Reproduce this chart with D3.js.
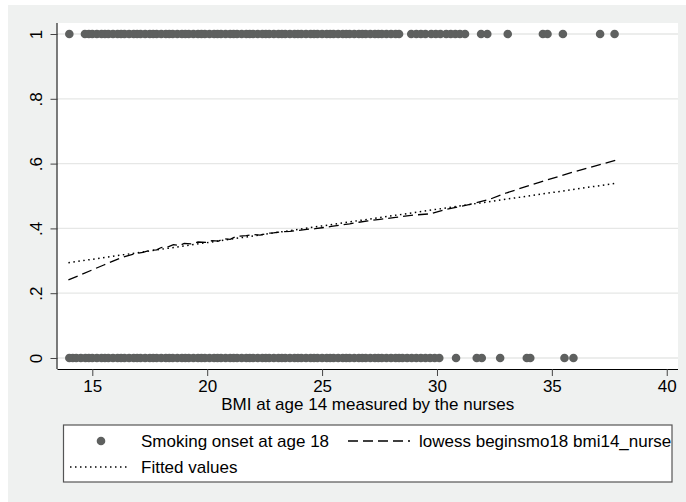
<!DOCTYPE html>
<html>
<head>
<meta charset="utf-8">
<script src="https://cdn.jsdelivr.net/npm/d3@7"></script>
<style>
  body { margin: 0; background: #fff; }
  svg { display: block; font-family: "Liberation Sans", Arial, sans-serif; }
</style>
</head>
<body>
<svg id="chart" width="686" height="502"></svg>
<script>
// BMI values of the observations, by smoking onset (1 = yes, 0 = no)
const smokerBMI = [14.0, 14.68, 14.85, 15.0, 15.2, 15.4, 15.55, 15.7, 15.9, 16.1, 16.25, 16.4, 16.6, 16.8, 16.95, 17.1, 17.3, 17.5, 17.65, 17.8, 18.0, 18.2, 18.35, 18.5, 18.7, 18.9, 19.05, 19.2, 19.4, 19.6, 19.75, 19.9, 20.1, 20.3, 20.45, 20.6, 20.8, 21.0, 21.15, 21.3, 21.5, 21.7, 21.85, 22.0, 22.2, 22.4, 22.55, 22.7, 22.9, 23.1, 23.25, 23.4, 23.6, 23.8, 23.95, 24.1, 24.3, 24.5, 24.65, 24.8, 25.0, 25.2, 25.35, 25.5, 25.7, 25.9, 26.05, 26.2, 26.4, 26.6, 26.75, 26.9, 27.1, 27.3, 27.45, 27.6, 27.8, 28.0, 28.2, 28.35, 28.88, 29.1, 29.3, 29.5, 29.75, 29.95, 30.15, 30.4, 30.6, 30.8, 31.0, 31.22, 31.92, 32.19, 33.08, 34.61, 34.81, 35.48, 37.1, 37.73];
const nonSmokerBMI = [14.0, 14.15, 14.3, 14.5, 14.7, 14.85, 15.0, 15.2, 15.4, 15.55, 15.7, 15.9, 16.1, 16.25, 16.4, 16.6, 16.8, 16.95, 17.1, 17.3, 17.5, 17.65, 17.8, 18.0, 18.2, 18.35, 18.5, 18.7, 18.9, 19.05, 19.2, 19.4, 19.6, 19.75, 19.9, 20.1, 20.3, 20.45, 20.6, 20.8, 21.0, 21.15, 21.3, 21.5, 21.7, 21.85, 22.0, 22.2, 22.4, 22.55, 22.7, 22.9, 23.1, 23.25, 23.4, 23.6, 23.8, 23.95, 24.1, 24.3, 24.5, 24.65, 24.8, 25.0, 25.2, 25.35, 25.5, 25.7, 25.9, 26.05, 26.2, 26.4, 26.6, 26.75, 26.9, 27.1, 27.3, 27.45, 27.6, 27.8, 28.0, 28.2, 28.35, 28.5, 28.7, 28.9, 29.1, 29.3, 29.5, 29.7, 29.9, 30.1, 30.83, 31.73, 31.95, 32.75, 33.91, 34.06, 35.55, 35.94];

// lowess smoother
const lowessBMI = [13.96, 14.5, 15.0, 15.5, 16.2, 16.8, 17.2, 17.5, 17.8, 18.0, 18.3, 18.53, 18.8, 19.0, 19.3, 19.6, 19.98, 20.2, 20.5, 20.7, 21.0, 21.2, 21.43, 21.7, 22.0, 22.3, 22.6, 22.88, 23.2, 23.6, 24.0, 24.33, 24.7, 25.0, 25.4, 25.78, 26.2, 26.6, 27.0, 27.52, 28.2, 28.97, 29.7, 30.43, 31.44, 32.3, 33.04, 34.49, 35.94, 37.76];
const lowessP = [0.241, 0.257, 0.272, 0.287, 0.308, 0.321, 0.326, 0.332, 0.334, 0.341, 0.343, 0.350, 0.347, 0.354, 0.352, 0.358, 0.357, 0.362, 0.361, 0.368, 0.366, 0.373, 0.376, 0.378, 0.381, 0.379, 0.385, 0.386, 0.389, 0.391, 0.394, 0.397, 0.399, 0.402, 0.406, 0.410, 0.414, 0.419, 0.423, 0.428, 0.434, 0.441, 0.445, 0.459, 0.474, 0.490, 0.510, 0.543, 0.574, 0.610];

// linear fit
const fittedBMI = [13.96, 37.76];
const fittedP = [0.294, 0.539];

const xTicks = [15, 20, 25, 30, 35, 40];
const yTicks = [0, 0.2, 0.4, 0.6, 0.8, 1];
const yTickLabels = ["0", ".2", ".4", ".6", ".8", "1"];
const xTitle = "BMI at age 14 measured by the nurses";
const legendLabels = ["Smoking onset at age 18", "lowess beginsmo18 bmi14_nurse", "Fitted values"];

const plot = { left: 57.5, right: 678, top: 23, bottom: 369 };
const dotColor = "#5e605f";
const fontSize = "17px";

const svg = d3.select("#chart");

svg.append("rect")
  .attr("x", 8).attr("y", 5)
  .attr("width", 686).attr("height", 502)
  .attr("fill", "#eff1f0");

svg.append("rect")
  .attr("x", plot.left).attr("y", plot.top)
  .attr("width", plot.right - plot.left)
  .attr("height", plot.bottom - plot.top)
  .attr("fill", "#fff");

const xScale = d3.scaleLinear().domain([13.485, 40.49]).range([plot.left, plot.right]);
const yScale = d3.scaleLinear().domain([-0.034, 1.034]).range([plot.bottom, plot.top]);

// gridlines
svg.append("g")
  .selectAll("line")
  .data(yTicks)
  .enter()
  .append("line")
  .attr("x1", plot.left).attr("x2", plot.right)
  .attr("y1", (d) => yScale(d)).attr("y2", (d) => yScale(d))
  .attr("stroke", "#e6e7e6")
  .attr("stroke-width", 1.3);

// scatter points
const points = [
  ...smokerBMI.map((b) => ({ bmi: b, smo: 1 })),
  ...nonSmokerBMI.map((b) => ({ bmi: b, smo: 0 })),
];
svg.append("g")
  .selectAll("circle")
  .data(points)
  .enter()
  .append("circle")
  .attr("cx", (d) => xScale(d.bmi))
  .attr("cy", (d) => yScale(d.smo))
  .attr("r", 4.3)
  .attr("fill", dotColor);

const line = d3.line().x((d) => xScale(d[0])).y((d) => yScale(d[1]));

svg.append("path")
  .datum(d3.zip(lowessBMI, lowessP))
  .attr("d", line)
  .attr("fill", "none")
  .attr("stroke", "#000")
  .attr("stroke-width", 1.3)
  .attr("stroke-dasharray", "10,5");

svg.append("path")
  .datum(d3.zip(fittedBMI, fittedP))
  .attr("d", line)
  .attr("fill", "none")
  .attr("stroke", "#000")
  .attr("stroke-width", 1.5)
  .attr("stroke-dasharray", "1.5,3.5");

// axes
const xAxis = svg.append("g")
  .attr("transform", `translate(0,${plot.bottom})`)
  .call(d3.axisBottom(xScale).tickValues(xTicks).tickSize(7).tickPadding(4).tickSizeOuter(0));
xAxis.select(".domain").attr("d", `M${plot.left},0.5H${plot.right}`).attr("stroke", "#000");
xAxis.selectAll(".tick line").attr("stroke", "#444");
xAxis.selectAll(".tick text")
  .attr("y", 23)
  .attr("dy", null)
  .style("font-size", fontSize)
  .style("font-family", "Liberation Sans, Arial, sans-serif")
  .attr("fill", "#000");

const yAxis = svg.append("g")
  .attr("transform", `translate(${plot.left},0)`)
  .call(d3.axisLeft(yScale).tickValues(yTicks).tickSize(7).tickSizeOuter(0)
    .tickFormat((d, i) => yTickLabels[i]));
yAxis.select(".domain").attr("d", `M-0.5,${plot.top}V${plot.bottom}`).attr("stroke", "#000");
yAxis.selectAll(".tick line").attr("stroke", "#444");
yAxis.selectAll(".tick text")
  .attr("x", null).attr("dy", null)
  .attr("transform", "translate(-15.8,0) rotate(-90)")
  .attr("text-anchor", "middle")
  .style("font-size", fontSize)
  .style("font-family", "Liberation Sans, Arial, sans-serif")
  .attr("fill", "#000");

svg.append("text")
  .attr("x", (plot.left + plot.right) / 2)
  .attr("y", 410)
  .attr("text-anchor", "middle")
  .style("font-size", fontSize)
  .text(xTitle);

// legend
const legend = svg.append("g");
legend.append("rect")
  .attr("x", 63.5).attr("y", 425)
  .attr("width", 608.5).attr("height", 57)
  .attr("fill", "#fff")
  .attr("stroke", "#555")
  .attr("stroke-width", 1.2);

legend.append("circle")
  .attr("cx", 101).attr("cy", 441)
  .attr("r", 4.3)
  .attr("fill", dotColor);
legend.append("line")
  .attr("x1", 348).attr("x2", 410).attr("y1", 441).attr("y2", 441)
  .attr("stroke", "#000").attr("stroke-width", 1.3)
  .attr("stroke-dasharray", "10,5");
legend.append("line")
  .attr("x1", 70).attr("x2", 129).attr("y1", 467).attr("y2", 467)
  .attr("stroke", "#000").attr("stroke-width", 1.5)
  .attr("stroke-dasharray", "1.5,3.5");

const legendPos = [[141, 447], [419, 447], [141, 473]];
legend.selectAll("text.lab")
  .data(legendLabels)
  .enter()
  .append("text")
  .classed("lab", true)
  .attr("x", (d, i) => legendPos[i][0])
  .attr("y", (d, i) => legendPos[i][1])
  .style("font-size", fontSize)
  .text((d) => d);
</script>
</body>
</html>
